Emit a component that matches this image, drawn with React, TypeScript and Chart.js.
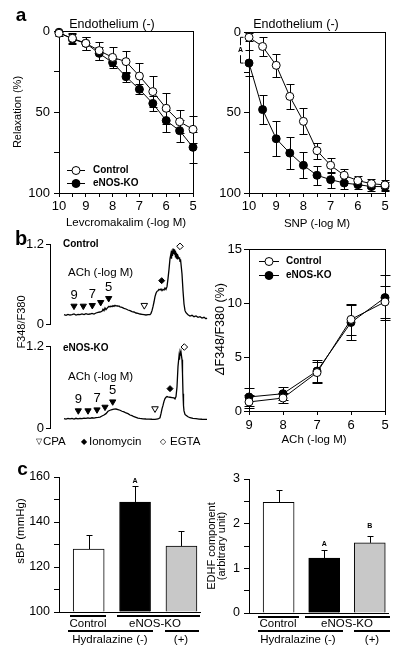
import React, { useEffect, useRef } from 'react';
import { Chart, registerables } from 'chart.js';

Chart.register(...registerables);

const FONT = '"Liberation Sans", Arial, Helvetica, sans-serif';
const BLACK = '#000000';
const WHITE = '#ffffff';
const GREY = '#c8c8c8';

// ---------------- Panel a : concentration-relaxation curves ----------------
const seriesNames = ['Control', 'eNOS-KO'];
const doseA = [10, 9.5, 9, 8.5, 8, 7.5, 7, 6.5, 6, 5.5, 5];
const doseTickLabelsA = [10, 9, 8, 7, 6, 5];
const relaxTickLabels = [0, 50, 100];
const levControl = [1.4, 4.5, 7.6, 12.1, 16.3, 18.9, 27.8, 37.4, 47.7, 56, 60.7];
const levControlSE = [1.5, 3, 4, 5.5, 6.6, 6.8, 7.8, 9.7, 9.7, 7.2, 8.2];
const levKO = [0.8, 5, 7.6, 13.8, 19.5, 28.2, 36, 44.7, 55.3, 61.5, 71.8];
const levKOSE = [1, 3, 4, 4, 2, 3, 3, 4.5, 6.8, 6.8, 9.5];
const snpControl = [3.3, 9, 20.7, 40, 55.5, 73.7, 82.8, 89, 92.3, 94.2, 95];
const snpControlSE = [2.5, 5.6, 7, 8, 8, 5, 4.6, 3.6, 3, 3, 3];
const snpKO = [19.3, 48.2, 66.3, 75.2, 82.8, 89, 91.7, 93.8, 94.8, 96, 96];
const snpKOSE = [8, 9, 11, 10, 8, 6, 5, 4, 3, 3, 3];
const snpBracketLabel = 'A';

// ---------------- Panel b : fura-2 traces ----------------
const traceTickLabels = [0, 1.2];
const ctrlTraceT = [14, 16, 18, 20, 22, 24, 26, 28, 30, 32, 34, 36, 38, 40, 42, 44, 46, 48, 50, 52,
  53, 54, 55, 56, 57, 58, 59, 60, 61, 62, 63, 64, 65, 66, 67, 68, 69, 70,
  72, 74, 76, 78, 80, 82, 84, 86, 88, 90, 92, 94, 96, 98, 100,
  101, 102, 103, 104, 105, 106, 107, 108, 109, 110, 111, 112, 113, 114, 115, 116, 117, 118, 119, 120, 121,
  121.5, 122, 122.5, 123, 123.5, 124, 124.5, 125, 125.5, 126, 126.5, 127, 127.5, 128,
  129, 129.5, 130, 130.5, 131, 132, 133, 134, 135, 136,
  138, 140, 142, 144, 146, 148, 150, 152, 154, 156, 157];
const ctrlTraceV = [0.14, 0.13, 0.145, 0.135, 0.14, 0.15, 0.135, 0.145, 0.14, 0.15, 0.14, 0.155, 0.145, 0.15, 0.16, 0.15, 0.165, 0.175, 0.18, 0.19,
  0.22, 0.2, 0.24, 0.215, 0.235, 0.25, 0.265, 0.255, 0.27, 0.26, 0.275, 0.265, 0.28, 0.27, 0.275, 0.265, 0.27, 0.255,
  0.25, 0.235, 0.225, 0.21, 0.2, 0.185, 0.18, 0.165, 0.16, 0.15, 0.145, 0.14, 0.135, 0.14, 0.14,
  0.16, 0.2, 0.26, 0.33, 0.41, 0.46, 0.49, 0.5, 0.52, 0.51, 0.525, 0.5, 0.52, 0.51, 0.54, 0.52, 0.56, 0.68, 0.82, 0.98, 1.06,
  0.98, 1.1, 1.02, 1.13, 1.05, 1.12, 1.04, 1.1, 1.0, 1.07, 0.98, 1.05, 0.97, 1.02,
  0.98, 1.0, 0.94, 0.97, 0.9, 0.75, 0.5, 0.3, 0.2, 0.17,
  0.14, 0.12, 0.13, 0.11, 0.12, 0.1, 0.11, 0.09, 0.1, 0.08, 0.09];
const koTraceT = [14, 16, 18, 20, 22, 24, 26, 28, 30, 32, 34, 36, 38, 40, 42, 44, 46, 48, 50, 52,
  54, 56, 58, 60, 62, 64, 66, 68, 70, 72, 74, 76, 78, 80, 82, 84, 86, 88, 90,
  93, 96, 99, 102, 105, 108,
  110, 111, 112, 113, 114, 115, 116, 117, 118,
  120, 122, 124,
  125, 126, 127, 128, 129, 129.5, 130, 130.5, 131, 132,
  132.5, 133, 133.5, 134, 135, 136,
  138, 140, 143, 146, 149, 152, 155, 157];
const koTraceV = [0.137, 0.13, 0.14, 0.135, 0.14, 0.13, 0.142, 0.135, 0.14, 0.138, 0.145, 0.14, 0.148, 0.142, 0.15, 0.145, 0.152, 0.155, 0.16, 0.175,
  0.19, 0.21, 0.245, 0.26, 0.27, 0.275, 0.278, 0.27, 0.26, 0.245, 0.235, 0.22, 0.21, 0.19, 0.18, 0.165, 0.155, 0.145, 0.14,
  0.135, 0.132, 0.13, 0.128, 0.127, 0.132,
  0.15, 0.21, 0.28, 0.33, 0.39, 0.43, 0.45, 0.46, 0.455,
  0.45, 0.445, 0.44,
  0.425, 0.46, 0.6, 0.9, 1.05, 1.0, 1.1, 1.06, 1.11, 1.0,
  0.8, 0.5, 0.33, 0.25, 0.2, 0.185,
  0.165, 0.15, 0.14, 0.137, 0.13, 0.128, 0.127, 0.125];
const achMarkLabels = ['9', '', '7', '', '5'];
const ctrlAchT = [24, 33.3, 42.3, 50.7, 58.7];
const ctrlAchV = [0.27, 0.27, 0.28, 0.325, 0.385];
const koAchT = [28.3, 38, 47, 55, 62.7];
const koAchV = [0.254, 0.254, 0.268, 0.307, 0.385];
const eventNames = ['CPA', 'Ionomycin', 'EGTA'];
const ctrlEventT = [94.3, 111.7, 130];
const ctrlEventV = [0.28, 0.65, 1.165];
const koEventT = [105, 120, 134.3];
const koEventV = [0.283, 0.576, 1.185];

// ---------------- Panel b : ACh concentration-response ----------------
const achDose = [9, 8, 7, 6, 5];
const achTickLabels = [9, 8, 7, 6, 5];
const ratioTickLabels = [0, 5, 10, 15];
const achControl = [0.84, 1.2, 3.56, 8.48, 10.1];
const achControlSE = [0.6, 0.5, 1.0, 1.4, 1.5];
const achKO = [1.3, 1.6, 3.7, 8.2, 10.5];
const achKOSE = [0.8, 0.6, 1.0, 1.6, 2.1];

// ---------------- Panel c : bars ----------------
const groupNames = ['Control', 'eNOS-KO', 'eNOS-KO'];
const hydralazine = ['(-)', '(-)', '(+)'];
const sbpValues = [128, 148.9, 129.3];
const sbpSE = [6.2, 7.1, 6.7];
const sbpSig = ['', 'A', ''];
const sbpTickLabels = [100, 120, 140, 160];
const edhfValues = [2.48, 1.23, 1.57];
const edhfSE = [0.27, 0.18, 0.15];
const edhfSig = ['', 'A', 'B'];
const edhfTickLabels = [0, 1, 2, 3];

// ---------------- helpers ----------------
const pts = (xs: number[], ys: number[]) => xs.map((x, i) => ({ x, y: ys[i] }));

function axis(o: any) {
  return {
    type: 'linear', min: o.min, max: o.max, reverse: !!o.reverse,
    ticks: {
      stepSize: o.step, autoSkip: false, maxRotation: 0, minRotation: 0, padding: o.pad, color: BLACK,
      font: { family: FONT, size: o.size },
      callback: (v: number) => (o.labels.some((l: number) => Math.abs(l - v) < 1e-9) ? String(Math.round(v * 10) / 10) : ''),
    },
    grid: { display: true, drawOnChartArea: false, drawTicks: true, tickLength: o.tick, color: BLACK, lineWidth: 1 },
    border: { display: true, color: BLACK, width: 1 },
    afterFit: o.fit,
  };
}

function baseOptions(padding: any, scales: any) {
  return {
    responsive: false, maintainAspectRatio: false, animation: false, events: [],
    layout: { padding },
    plugins: { legend: { display: false }, tooltip: { enabled: false }, title: { display: false } },
    scales,
  };
}

function curveDatasets(dose: number[], ctrl: number[], ko: number[], r: number) {
  return [
    { label: seriesNames[0], data: pts(dose, ctrl), borderColor: BLACK, borderWidth: 1, backgroundColor: WHITE,
      pointStyle: 'circle', pointRadius: r, pointBackgroundColor: WHITE, pointBorderColor: BLACK, pointBorderWidth: 1,
      tension: 0, clip: false, order: 0 },
    { label: seriesNames[1], data: pts(dose, ko), borderColor: BLACK, borderWidth: 1, backgroundColor: BLACK,
      pointStyle: 'circle', pointRadius: r, pointBackgroundColor: BLACK, pointBorderColor: BLACK, pointBorderWidth: 1,
      tension: 0, clip: false, order: 1 },
  ];
}

const framePlugin = {
  id: 'frame',
  beforeDatasetsDraw(chart: any) {
    const { ctx, chartArea: a } = chart;
    ctx.save();
    ctx.strokeStyle = BLACK; ctx.lineWidth = 1;
    ctx.strokeRect(Math.round(a.left) + 0.5, Math.round(a.top) + 0.5, Math.round(a.right - a.left), Math.round(a.bottom - a.top));
    ctx.restore();
  },
};

function errorBarPlugin(specs: any[], cap: number, upOnly: boolean, after: boolean) {
  const draw = (chart: any) => {
    const { ctx } = chart;
    const ys = chart.scales.y;
    ctx.save();
    ctx.strokeStyle = BLACK; ctx.lineWidth = 1;
    specs.forEach((s: any) => {
      const meta = chart.getDatasetMeta(s.ds);
      const raw = chart.data.datasets[s.ds].data;
      meta.data.forEach((el: any, i: number) => {
        const v = raw[i].y;
        const x = Math.round(el.x) + 0.5;
        const ends = upOnly ? [v + s.err[i]] : [v + s.err[i], v - s.err[i]];
        const p0 = ys.getPixelForValue(v);
        ctx.beginPath();
        ends.forEach((e: number) => {
          const pe = Math.round(ys.getPixelForValue(e)) + 0.5;
          ctx.moveTo(x, p0); ctx.lineTo(x, pe);
          ctx.moveTo(x - cap, pe); ctx.lineTo(x + cap, pe);
        });
        ctx.stroke();
      });
    });
    ctx.restore();
  };
  return after ? { id: 'errorBars', afterDatasetsDraw: draw } : { id: 'errorBars', beforeDatasetsDraw: draw };
}

function legendPlugin(o: any) {
  return {
    id: 'inlineLegend',
    afterDatasetsDraw(chart: any) {
      const { ctx, chartArea } = chart;
      ctx.save();
      chart.data.datasets.forEach((ds: any, i: number) => {
        const y = Math.round(chartArea.top + o.y0 + i * o.dy) + 0.5;
        const x1 = chartArea.left + o.x0;
        ctx.strokeStyle = BLACK; ctx.lineWidth = 1;
        ctx.beginPath(); ctx.moveTo(x1, y); ctx.lineTo(x1 + o.len, y); ctx.stroke();
        ctx.beginPath(); ctx.arc(x1 + o.len / 2, y, o.r, 0, Math.PI * 2);
        ctx.fillStyle = ds.pointBackgroundColor; ctx.fill(); ctx.stroke();
        ctx.fillStyle = BLACK; ctx.font = `bold 10px ${FONT}`;
        ctx.textAlign = 'left'; ctx.textBaseline = 'middle';
        ctx.fillText(ds.label, x1 + o.len + o.gap, y);
      });
      ctx.restore();
    },
  };
}

function markLabelPlugin(dsIndex: number, labels: string[], dy: number) {
  return {
    id: 'markLabels',
    afterDatasetsDraw(chart: any) {
      const { ctx } = chart;
      const meta = chart.getDatasetMeta(dsIndex);
      ctx.save();
      ctx.fillStyle = BLACK; ctx.font = `13px ${FONT}`;
      ctx.textAlign = 'center'; ctx.textBaseline = 'middle';
      meta.data.forEach((el: any, i: number) => { if (labels[i]) ctx.fillText(labels[i], el.x, el.y - dy); });
      ctx.restore();
    },
  };
}

function sigPlugin(labels: string[], se: number[], gaps: number[]) {
  return {
    id: 'sig',
    afterDatasetsDraw(chart: any) {
      const { ctx } = chart;
      const ys = chart.scales.y;
      const meta = chart.getDatasetMeta(0);
      const raw = chart.data.datasets[0].data;
      ctx.save();
      ctx.fillStyle = BLACK; ctx.font = `bold 7px ${FONT}`;
      ctx.textAlign = 'center'; ctx.textBaseline = 'middle';
      meta.data.forEach((el: any, i: number) => {
        if (labels[i]) ctx.fillText(labels[i], el.x, ys.getPixelForValue(raw[i].y + se[i]) - gaps[i]);
      });
      ctx.restore();
    },
  };
}

const bracketPlugin = {
  id: 'bracket',
  afterDatasetsDraw(chart: any) {
    const { ctx, chartArea } = chart;
    const ys = chart.scales.y;
    const x = Math.round(chartArea.left - 9) + 0.5;
    const y1 = ys.getPixelForValue(snpControl[0]);
    const y2 = ys.getPixelForValue(snpKO[0]);
    const ym = (y1 + y2) / 2;
    ctx.save();
    ctx.strokeStyle = BLACK; ctx.lineWidth = 1;
    ctx.beginPath();
    ctx.moveTo(x + 3, y1); ctx.lineTo(x, y1); ctx.lineTo(x, ym - 5);
    ctx.moveTo(x, ym + 5); ctx.lineTo(x, y2); ctx.lineTo(x + 3, y2);
    ctx.stroke();
    ctx.fillStyle = BLACK; ctx.font = `bold 7px ${FONT}`;
    ctx.textAlign = 'center'; ctx.textBaseline = 'middle';
    ctx.fillText(snpBracketLabel, x, ym);
    ctx.restore();
  },
};

// ---------------- chart configs ----------------
const makeLev = () => ({
  type: 'line',
  data: { datasets: curveDatasets(doseA, levControl, levKO, 4) },
  options: baseOptions({ left: 0, top: 31, right: 12, bottom: 0 }, {
    x: axis({ min: 5, max: 10, step: 0.5, labels: doseTickLabelsA, reverse: true, tick: 4, pad: 2, size: 13, fit: (s: any) => { s.height = 39; } }),
    y: axis({ min: 0, max: 100, step: 25, labels: relaxTickLabels, reverse: true, tick: 5, pad: 4, size: 13, fit: (s: any) => { s.width = 59; } }),
  }),
  plugins: [framePlugin, errorBarPlugin([{ ds: 0, err: levControlSE }, { ds: 1, err: levKOSE }], 4, false, false),
    legendPlugin({ x0: 8, y0: 139, dy: 13, len: 18, gap: 8, r: 4 })],
});

const makeSnp = () => ({
  type: 'line',
  data: { datasets: curveDatasets(doseA, snpControl, snpKO, 4) },
  options: baseOptions({ left: 0, top: 32, right: 22, bottom: 0 }, {
    x: axis({ min: 5, max: 10, step: 0.5, labels: doseTickLabelsA, reverse: true, tick: 4, pad: 2, size: 13, fit: (s: any) => { s.height = 39; } }),
    y: axis({ min: 0, max: 100, step: 25, labels: relaxTickLabels, reverse: true, tick: 5, pad: 3, size: 13, fit: (s: any) => { s.width = 49; } }),
  }),
  plugins: [framePlugin, errorBarPlugin([{ ds: 0, err: snpControlSE }, { ds: 1, err: snpKOSE }], 4, false, false), bracketPlugin],
});

const eventStyles = ['triangle', 'rectRot', 'rectRot'];
const eventRotations = [180, 0, 0];
const eventRadii = [3.8, 3, 3.3];
const eventFills = [WHITE, BLACK, WHITE];

function traceConfig(t: number[], v: number[], mT: number[], mV: number[], eT: number[], eV: number[], padding: any) {
  return {
    type: 'line',
    data: {
      datasets: [
        { label: 'trace', data: pts(t, v), borderColor: BLACK, borderWidth: 1.3, pointRadius: 0, tension: 0, clip: false, order: 2 },
        { label: 'ACh', data: pts(mT, mV), showLine: false, pointStyle: 'triangle', pointRotation: 180, pointRadius: 3.6,
          pointBackgroundColor: BLACK, pointBorderColor: BLACK, pointBorderWidth: 1, clip: false, order: 1 },
        { label: eventNames.join(','), data: pts(eT, eV), showLine: false, pointStyle: eventStyles, pointRotation: eventRotations,
          pointRadius: eventRadii, pointBackgroundColor: eventFills, pointBorderColor: BLACK, pointBorderWidth: 1, clip: false, order: 0 },
      ],
    },
    options: baseOptions(padding, {
      x: { type: 'linear', min: 0, max: 160, display: false },
      y: axis({ min: 0, max: 1.2, step: 1.2, labels: traceTickLabels, tick: 4, pad: 2, size: 13, fit: (s: any) => { s.width = 50; } }),
    }),
    plugins: [markLabelPlugin(1, achMarkLabels, 11)],
  };
}

const makeCtrlTrace = () => traceConfig(ctrlTraceT, ctrlTraceV, ctrlAchT, ctrlAchV, ctrlEventT, ctrlEventV, { left: 0, top: 12, right: 5, bottom: 10 });
const makeKoTrace = () => traceConfig(koTraceT, koTraceV, koAchT, koAchV, koEventT, koEventV, { left: 0, top: 12, right: 5, bottom: 10 });

const makeAch = () => ({
  type: 'line',
  data: { datasets: curveDatasets(achDose, achControl, achKO, 4) },
  options: baseOptions({ left: 0, top: 13, right: 22, bottom: 0 }, {
    x: axis({ min: 5, max: 9, step: 1, labels: achTickLabels, reverse: true, tick: 4, pad: 3, size: 13, fit: (s: any) => { s.height = 25; } }),
    y: axis({ min: 0, max: 15, step: 5, labels: ratioTickLabels, tick: 5, pad: 2, size: 13, fit: (s: any) => { s.width = 49; } }),
  }),
  plugins: [framePlugin, errorBarPlugin([{ ds: 0, err: achControlSE }, { ds: 1, err: achKOSE }], 5, false, false),
    legendPlugin({ x0: 10, y0: 12, dy: 14, len: 20, gap: 7, r: 4 })],
});

const barFills = [WHITE, BLACK, GREY];

function barConfig(vals: number[], se: number[], sig: string[], gaps: number[], y: any, xMin: number, xMax: number, padding: any, yWidth: number) {
  return {
    type: 'bar',
    data: {
      datasets: [{
        label: 'bars', data: vals.map((v, i) => ({ x: i, y: v })), base: y.min,
        backgroundColor: barFills, borderColor: BLACK, borderWidth: 1, barThickness: 31,
      }],
    },
    options: baseOptions(padding, {
      x: { type: 'linear', min: xMin, max: xMax, offset: false, display: true, ticks: { display: false },
        grid: { display: false, offset: false, drawTicks: false }, border: { display: true, color: BLACK, width: 1 },
        afterFit: (s: any) => { s.height = 1; } },
      y: axis({ ...y, tick: 5, pad: 4, size: 12.5, fit: (s: any) => { s.width = yWidth; } }),
    }),
    plugins: [errorBarPlugin([{ ds: 0, err: se }], 3, true, true), sigPlugin(sig, se, gaps)],
  };
}

const makeSbp = () => barConfig(sbpValues, sbpSE, sbpSig, [0, 5, 0], { min: 100, max: 160, step: 10, labels: sbpTickLabels },
  -0.64, 2.4, { left: 0, top: 12, right: 10, bottom: 11 }, 59);
const makeEdhf = () => barConfig(edhfValues, edhfSE, edhfSig, [0, 6, 10], { min: 0, max: 3, step: 0.5, labels: edhfTickLabels },
  -0.65, 2.4, { left: 0, top: 14, right: 19, bottom: 11 }, 49);

// ---------------- components ----------------
function ChartCanvas(p: { left: number; top: number; width: number; height: number; make: () => any }) {
  const ref = useRef<HTMLCanvasElement>(null);
  useEffect(() => {
    const chart = new Chart(ref.current as HTMLCanvasElement, p.make());
    return () => chart.destroy();
  }, []);
  return (
    <canvas ref={ref} width={p.width} height={p.height}
      style={{ position: 'absolute', left: p.left, top: p.top, width: p.width, height: p.height }} />
  );
}

function Label(p: { x: number; y: number; size: number; bold?: boolean; rotate?: boolean; left?: boolean; children: any }) {
  const tx = p.left ? '0' : '-50%';
  return (
    <div style={{
      position: 'absolute', left: p.x, top: p.y,
      transform: `translate(${tx}, -50%)${p.rotate ? ' rotate(-90deg)' : ''}`,
      fontSize: p.size, fontWeight: p.bold ? 700 : 400, fontFamily: FONT, lineHeight: 1,
      whiteSpace: 'nowrap', color: BLACK,
    }}>{p.children}</div>
  );
}

function Rule(p: { x1: number; x2: number; y: number }) {
  return <div style={{ position: 'absolute', left: p.x1, top: p.y, width: p.x2 - p.x1, height: 2, background: BLACK }} />;
}

export default function App() {
  return (
    <div style={{ position: 'absolute', left: 0, top: 0, width: 407, height: 658, background: WHITE, overflow: 'hidden', fontFamily: FONT }}>
      <ChartCanvas left={0} top={0} width={205} height={232} make={makeLev} />
      <ChartCanvas left={200} top={0} width={207} height={232} make={makeSnp} />
      <ChartCanvas left={0} top={232} width={215} height={102} make={makeCtrlTrace} />
      <ChartCanvas left={0} top={334} width={215} height={104} make={makeKoTrace} />
      <ChartCanvas left={200} top={236} width={207} height={200} make={makeAch} />
      <ChartCanvas left={0} top={465} width={210} height={159} make={makeSbp} />
      <ChartCanvas left={200} top={465} width={207} height={160} make={makeEdhf} />

      {/* panel a */}
      <Label x={21} y={14} size={19} bold>a</Label>
      <Label x={112} y={24} size={12.5}>Endothelium (-)</Label>
      <Label x={296} y={24} size={12.5}>Endothelium (-)</Label>
      <Label x={16.5} y={112} size={11} rotate>Relaxation (%)</Label>
      <Label x={126} y={222.5} size={11.5}>Levcromakalim (-log M)</Label>
      <Label x={317} y={223.5} size={11.5}>SNP (-log M)</Label>

      {/* panel b */}
      <Label x={21} y={238} size={20} bold>b</Label>
      <Label x={63} y={244} size={10} bold left>{seriesNames[0]}</Label>
      <Label x={68} y={273} size={11.5} left>ACh (-log M)</Label>
      <Label x={63} y={348} size={10} bold left>{seriesNames[1]}</Label>
      <Label x={68} y={377} size={11.5} left>ACh (-log M)</Label>
      <Label x={21} y={322} size={11} rotate>F348/F380</Label>
      <Label x={38.5} y={442} size={8}>▽</Label>
      <Label x={43} y={442} size={11.5} left>{eventNames[0]}</Label>
      <Label x={83.5} y={442} size={8}>◆</Label>
      <Label x={89} y={442} size={11.5} left>{eventNames[1]}</Label>
      <Label x={163} y={442} size={8}>◇</Label>
      <Label x={170} y={442} size={11.5} left>{eventNames[2]}</Label>
      <Label x={220} y={329} size={12.5} rotate><span style={{ fontStyle: 'italic' }}>Δ</span>F348/F380 (%)</Label>
      <Label x={314} y={440} size={11.5}>ACh (-log M)</Label>

      {/* panel c */}
      <Label x={22.5} y={468} size={19} bold>c</Label>
      <Label x={21} y={531} size={11.5} rotate>sBP (mmHg)</Label>
      <Label x={211} y={546} size={11} rotate>EDHF component</Label>
      <Label x={221} y={546} size={11} rotate>(arbitrary unit)</Label>

      <Rule x1={70} x2={106} y={615} />
      <Rule x1={117} x2={200} y={615} />
      <Label x={88} y={624} size={11.5}>{groupNames[0]}</Label>
      <Label x={155} y={624} size={11.5}>{groupNames[1]}</Label>
      <Rule x1={68} x2={153} y={630} />
      <Rule x1={165} x2={199} y={630} />
      <Label x={110} y={640} size={11.5}>{'Hydralazine ' + hydralazine[0]}</Label>
      <Label x={181} y={640} size={11.5}>{hydralazine[2]}</Label>

      <Rule x1={258} x2={299} y={616} />
      <Rule x1={305} x2={390} y={616} />
      <Label x={278} y={624} size={11.5}>{groupNames[0]}</Label>
      <Label x={347} y={624} size={11.5}>{groupNames[1]}</Label>
      <Rule x1={258} x2={343} y={630} />
      <Rule x1={354} x2={390} y={630} />
      <Label x={298} y={640} size={11.5}>{'Hydralazine ' + hydralazine[0]}</Label>
      <Label x={372} y={640} size={11.5}>{hydralazine[2]}</Label>
    </div>
  );
}
